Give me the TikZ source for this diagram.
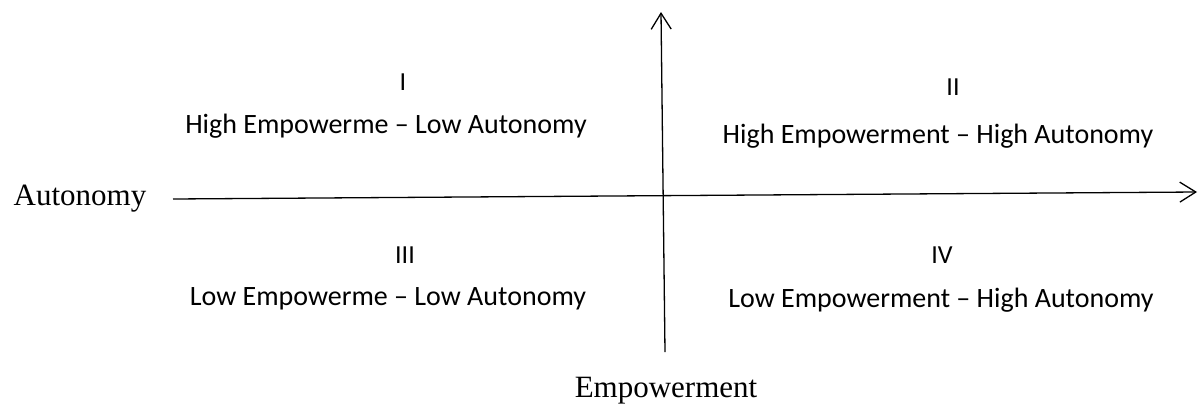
\documentclass[tikz,border=0pt]{standalone}
\usepackage{fontspec}
\setmainfont{Liberation Serif}
\newfontfamily\quadfont{Carlito}
\usepackage{tikz}
\usetikzlibrary{arrows.meta,positioning}

\begin{document}
\begin{tikzpicture}[x=1pt,y=-1pt,
    axis/.style={line width=1.3pt,-{Straight Barb[length=16pt,width=20pt,line width=1.3pt]}},
    axislabel/.style={anchor=base,font=\fontsize{31}{36}\selectfont},
    numeral/.style={anchor=base,font=\quadfont\fontsize{26}{30}\selectfont},
    quadtext/.style={anchor=base,font=\quadfont\fontsize{28}{32}\selectfont}]
    \useasboundingbox (0,0) rectangle (1200,405);
    % axes
    \coordinate (autL) at (173,199);
    \coordinate (autR) at (1197,192);
    \coordinate (empB) at (665,352);
    \coordinate (empT) at (661,12);
    \draw[axis] (autL) -- (autR);
    \draw[axis] (empB) -- (empT);
    \node[axislabel] (aut) at (80,205) {Autonomy};
    \node[axislabel] (emp) at (666,397) {Empowerment};
    % quadrants
    \node[numeral] (q1) at (403,90) {I};
    \node[quadtext] (q1t) at (386,133) {High Empowerme – Low Autonomy};
    \node[numeral] (q2) at (953,95) {II};
    \node[quadtext] (q2t) at (938,143) {High Empowerment – High Autonomy};
    \node[numeral] (q3) at (405,263) {III};
    \node[quadtext] (q3t) at (388,305) {Low Empowerme – Low Autonomy};
    \node[numeral] (q4) at (942,263) {IV};
    \node[quadtext] (q4t) at (941,307) {Low Empowerment – High Autonomy};
\end{tikzpicture}
\end{document}
